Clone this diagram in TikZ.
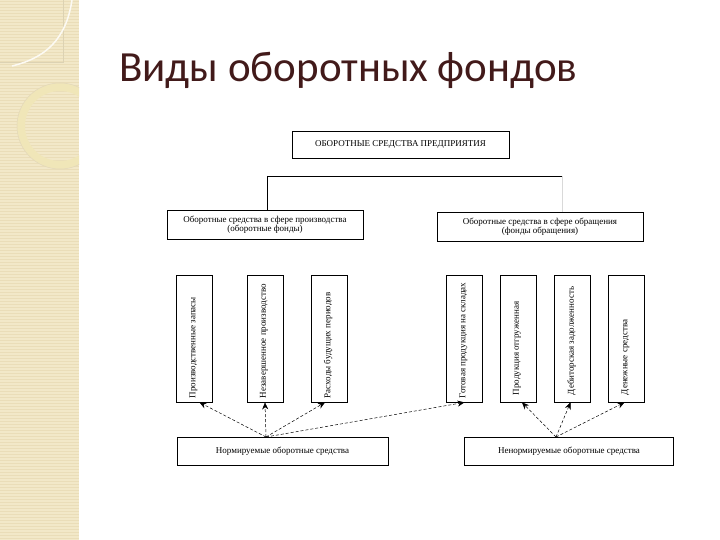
\documentclass[tikz,border=0pt]{standalone}
\usepackage{fontspec}
\setmainfont{Liberation Serif}
\newfontfamily\titlefont{Carlito}
\usetikzlibrary{arrows.meta,calc}
\definecolor{sidebg}{RGB}{242,232,200}
\definecolor{sidestripe}{RGB}{234,221,184}
\definecolor{ringcol}{RGB}{240,230,184}
\definecolor{titlecol}{RGB}{66,26,26}
\tikzset{
  box/.style={draw=black, line width=0.8pt, fill=white, inner sep=1pt, align=center, font=\fontsize{9}{9.5}\selectfont},
  vbox/.style={draw=black, line width=0.8pt, minimum width=36pt, minimum height=127pt},
  vtext/.style={rotate=90, anchor=west, inner sep=0pt, font=\fontsize{9}{9.5}\selectfont},
  conn/.style={line width=0.8pt},
  darr/.style={densely dashed, line width=0.5pt, -{Stealth[length=7pt,width=6pt]}}
}
\begin{document}
\begin{tikzpicture}[x=1pt,y=-1pt]
\useasboundingbox (0,0) rectangle (720,540);
\fill[white] (0,0) rectangle (720,540);
% sidebar
\fill[sidebg] (0,0) rectangle (79,540);
\foreach \yy in {1,4,...,540} {\draw[sidestripe, line width=0.6pt] (0,\yy) -- (79,\yy);}
\draw[sidestripe!80!black!40!sidebg, line width=0.8pt] (0,62) -- (63,62) -- (63,0);
\draw[white!80!sidebg, line width=1.5pt] (72,0) .. controls (66,40) and (45,58) .. (12,66);
\begin{scope}
\clip (0,0) rectangle (79,540);
\draw[ringcol, line width=8pt] (60,126) circle (39);
\draw[sidestripe!80!black!30!sidebg, line width=0.5pt] (60,126) circle (43);
\end{scope}
% title
\node[anchor=base west, inner sep=0pt, text=titlecol, font=\titlefont\fontsize{43}{46}\selectfont] (title) at (119,82) {Виды оборотных фондов};
% top
\node[box, minimum width=217pt, minimum height=27pt] (top) at (400.5,144.5) {ОБОРОТНЫЕ СРЕДСТВА ПРЕДПРИЯТИЯ};
\node[box, minimum width=196pt, minimum height=29pt] (prod) at (265,224.5) {Оборотные средства в сфере производства\\(оборотные фонды)};
\node[box, minimum width=206pt, minimum height=29pt] (obr) at (540,226.5) {Оборотные средства в сфере обращения\\(фонды обращения)};
\coordinate (hl) at (267,176);
\coordinate (hr) at (562,176);
\draw[conn] (hl) -- (hr);
\draw[conn] (hl) -- (prod.north -| hl);
\draw[black!15, line width=0.6pt] (hr) -- (obr.north -| hr);
% vertical boxes
\node[vbox] (v1) at (194.5,338.5) {};
\node[vbox] (v2) at (265,338.5) {};
\node[vbox] (v3) at (329,338.5) {};
\node[vbox] (v4) at (464.5,338.5) {};
\node[vbox] (v5) at (518,338.5) {};
\node[vbox] (v6) at (572.5,338.5) {};
\node[vbox] (v7) at (626.5,338.5) {};
\node[vtext] (t1) at ($(v1.south)+(-1,-4)$) {Производственные запасы};
\node[vtext] (t2) at ($(v2.south)+(-1,-4)$) {Незавершенное производство};
\node[vtext] (t3) at ($(v3.south)+(-1,-4)$) {Расходы будущих периодов};
\node[vtext] (t4) at ($(v4.south)+(-1,-4)$) {Готовая продукция на складах};
\node[vtext] (t5) at ($(v5.south)+(-1,-7)$) {Продукция отгруженная};
\node[vtext] (t6) at ($(v6.south)+(-1,-7)$) {Дебиторская задолженность};
\node[vtext] (t7) at ($(v7.south)+(-1,-7)$) {Денежные средства};
% bottom boxes
\node[box, minimum width=211pt, minimum height=28pt] (norm) at (282.5,451) {Нормируемые оборотные средства};
\node[box, minimum width=209pt, minimum height=28pt] (nenorm) at (569,451) {Ненормируемые оборотные средства};
\coordinate (nl) at (266,437);
\coordinate (nr) at (556,437);
\draw[darr] (nl) -- ($(v1.south)+(5,0)$);
\draw[darr] (nl) -- (v2.south);
\draw[darr] (nl) -- ($(v3.south)+(-4,0)$);
\draw[darr] (nl) -- (v4.south);
\draw[darr] (nr) -- ($(v5.south)+(4,0)$);
\draw[darr] (nr) -- ($(v6.south)+(-2,0)$);
\draw[darr] (nr) -- ($(v7.south)+(-2,0)$);
\end{tikzpicture}
\end{document}
